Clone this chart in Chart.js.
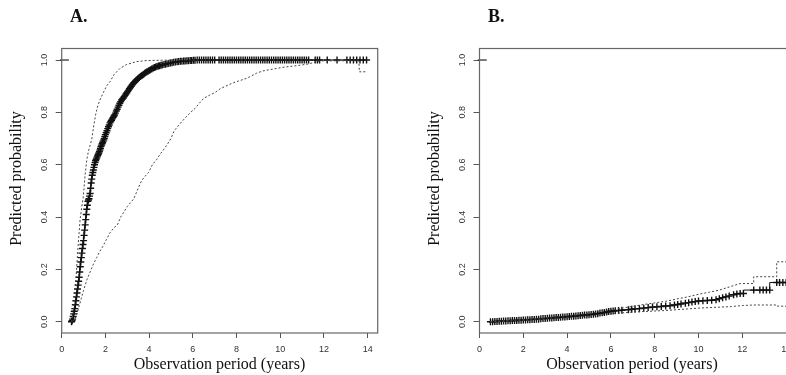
<!DOCTYPE html>
<html><head><meta charset="utf-8">
<script src="https://cdn.jsdelivr.net/npm/chart.js@4/dist/chart.umd.min.js"></script>
<style>
html,body{margin:0;padding:0;background:#fff;overflow:hidden;width:786px;height:375px;}
#wrap{position:relative;width:786px;height:375px;overflow:hidden;background:#fff;}
canvas{position:absolute;top:0;}
#cA{left:0;}
#cB{left:393px;}
</style></head><body>
<div id="wrap">
<canvas id="cA" width="393" height="375" style="width:393px;height:375px"></canvas>
<canvas id="cB" width="420" height="375" style="width:420px;height:375px"></canvas>
</div>
<script>
// ---------- texts and ticks ----------
const panelLabels = ["A.", "B."];
const xAxisTitle = "Observation period (years)";
const yAxisTitle = "Predicted probability";
const xTickValues = [0, 2, 4, 6, 8, 10, 12, 14];
const yTickValues = [0.0, 0.2, 0.4, 0.6, 0.8, 1.0];

// ---------- Panel A : [time, probability] ----------
const aMain = [
 [0.450,0.000],[0.475,0.004],[0.500,0.010],[0.525,0.020],[0.550,0.030],[0.575,0.040],[0.600,0.050],[0.625,0.065],
 [0.650,0.080],[0.675,0.095],[0.700,0.110],[0.725,0.125],[0.750,0.140],[0.775,0.155],[0.800,0.170],[0.825,0.190],
 [0.850,0.210],[0.875,0.228],[0.900,0.245],[0.925,0.262],[0.950,0.280],[0.975,0.295],[1.000,0.310],[1.025,0.330],
 [1.050,0.350],[1.075,0.370],[1.100,0.390],[1.125,0.410],[1.150,0.430],[1.175,0.445],[1.200,0.460],[1.225,0.465],
 [1.250,0.470],[1.275,0.480],[1.300,0.490],[1.325,0.510],[1.350,0.530],[1.375,0.545],[1.400,0.560],[1.425,0.570],
 [1.450,0.580],[1.475,0.590],[1.500,0.600],[1.525,0.608],[1.550,0.615],[1.575,0.620],[1.600,0.625],[1.625,0.630],
 [1.650,0.635],[1.675,0.640],[1.700,0.645],[1.725,0.650],[1.750,0.656],[1.775,0.663],[1.800,0.670],[1.825,0.675],
 [1.850,0.680],[1.875,0.685],[1.900,0.690],[1.925,0.695],[1.950,0.700],[1.975,0.708],[2.000,0.715],[2.035,0.722],
 [2.070,0.730],[2.105,0.738],[2.140,0.745],[2.175,0.752],[2.210,0.760],[2.245,0.765],[2.280,0.770],[2.315,0.775],
 [2.350,0.780],[2.385,0.785],[2.420,0.790],[2.460,0.797],[2.500,0.805],[2.540,0.812],[2.580,0.820],[2.620,0.827],
 [2.660,0.835],[2.700,0.841],[2.740,0.847],[2.780,0.851],[2.820,0.855],[2.860,0.860],[2.900,0.865],[2.940,0.870],
 [2.980,0.875],[3.020,0.880],[3.060,0.885],[3.100,0.890],[3.140,0.895],[3.180,0.900],[3.220,0.905],[3.260,0.909],
 [3.300,0.913],[3.350,0.917],[3.400,0.922],[3.450,0.926],[3.500,0.930],[3.550,0.933],[3.600,0.937],[3.650,0.940],
 [3.700,0.943],[3.750,0.946],[3.800,0.949],[3.850,0.952],[3.900,0.955],[3.950,0.957],[4.000,0.960],[4.060,0.963],
 [4.120,0.966],[4.180,0.969],[4.240,0.971],[4.300,0.973],[4.360,0.975],[4.420,0.977],[4.480,0.978],[4.540,0.980],
 [4.600,0.981],[4.680,0.983],[4.750,0.984],[4.820,0.986],[4.900,0.987],[4.980,0.989],[5.050,0.990],[5.120,0.991],
 [5.200,0.992],[5.280,0.993],[5.350,0.994],[5.430,0.995],[5.500,0.995],[5.580,0.996],[5.650,0.996],[5.730,0.997],
 [5.800,0.997],[5.880,0.998],[5.950,0.998],[6.030,0.999],[6.100,0.999],
 [6.20,1],[6.30,1],[6.40,1],[6.50,1],[6.60,1],[6.70,1],[6.80,1],[6.90,1],[7.00,1],
 [7.20,1],[7.30,1],[7.40,1],[7.50,1],[7.60,1],[7.70,1],[7.80,1],[7.90,1],
 [8.00,1],[8.10,1],[8.20,1],[8.30,1],[8.40,1],[8.50,1],[8.60,1],[8.70,1],[8.80,1],[8.90,1],
 [9.00,1],[9.10,1],[9.20,1],[9.30,1],[9.40,1],[9.50,1],[9.60,1],[9.70,1],[9.80,1],[9.90,1],
 [10.00,1],[10.10,1],[10.20,1],[10.30,1],[10.40,1],[10.50,1],[10.60,1],[10.70,1],[10.80,1],[10.90,1],
 [11.00,1],[11.10,1],[11.20,1],[11.30,1],[11.60,1],[11.70,1],[11.80,1],[12.15,1],[12.60,1],
 [13.05,1],[13.20,1],[13.35,1],[13.50,1],[13.65,1],[13.80,1],[13.95,1]
];
const aUpper = [
 [0.45,0.000],[0.52,0.030],[0.60,0.100],[0.68,0.200],[0.76,0.300],[0.84,0.390],[0.92,0.440],[0.99,0.478],
 [1.07,0.560],[1.15,0.620],[1.22,0.650],[1.30,0.675],[1.37,0.694],[1.45,0.740],[1.55,0.790],[1.65,0.825],
 [1.75,0.847],[1.90,0.875],[2.05,0.900],[2.21,0.917],[2.40,0.945],[2.67,0.968],[2.95,0.982],[3.43,0.994],
 [3.90,0.998],[4.50,0.999],[5.10,1.000],[14.00,1.000]
];
const aLower = [
 [0.50,0.000],[0.60,0.010],[0.70,0.030],[0.80,0.060],[0.90,0.090],[1.00,0.120],[1.15,0.160],[1.30,0.190],
 [1.45,0.220],[1.60,0.245],[1.75,0.270],[1.90,0.290],[2.05,0.315],[2.21,0.340],[2.40,0.360],[2.55,0.370],
 [2.70,0.400],[2.85,0.420],[3.00,0.440],[3.15,0.455],[3.30,0.470],[3.45,0.500],[3.60,0.530],[3.75,0.550],
 [3.97,0.570],[4.15,0.600],[4.35,0.620],[4.50,0.640],[4.65,0.656],[4.85,0.680],[5.00,0.700],[5.15,0.730],
 [5.30,0.745],[5.50,0.765],[5.72,0.785],[5.90,0.800],[6.10,0.815],[6.30,0.835],[6.50,0.854],[6.75,0.865],
 [7.00,0.875],[7.25,0.890],[7.50,0.900],[7.85,0.913],[8.10,0.920],[8.46,0.930],[8.70,0.940],[8.92,0.950],
 [9.20,0.958],[9.50,0.963],[9.84,0.968],[10.20,0.973],[10.60,0.977],[10.90,0.980],[11.30,0.985],[11.70,0.995],
 [12.00,0.997],[13.60,0.997],[13.62,0.955],[13.90,0.955]
];

// ---------- Panel B : [time, probability] ----------
const bMain = [
 [0.5,0.000],[0.6,0.000],[0.7,0.001],[0.8,0.001],[0.9,0.002],[1.0,0.002],[1.1,0.003],[1.2,0.003],[1.3,0.004],
 [1.4,0.004],[1.5,0.005],[1.6,0.005],[1.7,0.005],[1.8,0.006],[1.9,0.006],[2.0,0.007],[2.1,0.007],[2.2,0.008],
 [2.3,0.008],[2.4,0.009],[2.5,0.009],[2.6,0.010],[2.7,0.010],[2.8,0.011],[2.9,0.012],[3.0,0.012],[3.1,0.013],
 [3.2,0.014],[3.3,0.014],[3.4,0.015],[3.5,0.016],[3.6,0.016],[3.7,0.017],[3.8,0.018],[3.9,0.018],[4.0,0.019],
 [4.1,0.020],[4.2,0.021],[4.3,0.021],[4.4,0.022],[4.5,0.023],[4.6,0.024],[4.7,0.025],[4.8,0.026],[4.9,0.026],
 [5.0,0.027],[5.1,0.028],[5.2,0.029],[5.3,0.030],[5.4,0.031],[5.5,0.033],[5.6,0.034],[5.7,0.035],[5.8,0.037],
 [5.9,0.039],[6.0,0.040],[6.1,0.041],[6.2,0.042],[6.35,0.043],[6.50,0.044],[6.80,0.046],[6.95,0.048],
 [7.10,0.049],[7.30,0.050],[7.50,0.052],[7.70,0.054],[7.90,0.056],[8.10,0.057],[8.30,0.058],[8.50,0.060],
 [8.70,0.061],[8.90,0.064],[9.05,0.066],[9.20,0.068],[9.40,0.071],[9.55,0.073],[9.70,0.075],[9.85,0.077],
 [10.00,0.079],[10.20,0.080],[10.40,0.081],[10.60,0.082],[10.80,0.084],[10.95,0.088],[11.10,0.092],[11.25,0.095],
 [11.40,0.098],[11.60,0.103],[11.75,0.106],[11.90,0.108],[12.05,0.108],[12.52,0.121],[12.80,0.121],[12.95,0.121],
 [13.10,0.121],[13.25,0.121],[13.57,0.150],[13.70,0.150],[13.85,0.150],[14.00,0.150]
];
const bUpper = [
 [0.50,0.000],[1.00,0.003],[2.00,0.009],[3.00,0.015],[4.00,0.023],[5.00,0.032],[5.50,0.038],[6.00,0.046],
 [6.50,0.052],[7.00,0.059],[7.50,0.066],[8.00,0.072],[8.50,0.078],[9.00,0.087],[9.50,0.095],[10.00,0.105],
 [10.50,0.113],[10.90,0.120],[11.30,0.130],[11.60,0.138],[11.90,0.146],[12.52,0.146],[12.52,0.172],
 [13.57,0.172],[13.57,0.229],[14.40,0.229]
];
const bLower = [
 [0.50,0.000],[1.00,0.001],[2.00,0.005],[3.00,0.009],[4.00,0.015],[5.00,0.022],[5.50,0.026],[6.00,0.031],
 [6.50,0.034],[7.00,0.037],[7.50,0.039],[8.00,0.041],[8.50,0.043],[9.00,0.046],[9.50,0.049],[10.00,0.052],
 [10.50,0.054],[11.00,0.056],[11.50,0.058],[12.00,0.062],[12.52,0.064],[13.55,0.064],[13.57,0.060],[14.40,0.058]
];

// short segment at 1.0 near the origin (both panels)
const startSeg = [[-0.08, 1.0], [0.33, 1.0]];

function pts(arr) { return arr.map(p => ({x: p[0], y: p[1]})); }

const deco = {
  id: 'rdeco',
  afterDraw(chart, args, o) {
    const {ctx, chartArea: a, scales} = chart;
    const y = scales.y;
    ctx.save();
    ctx.strokeStyle = '#666';
    ctx.lineWidth = 1.2;
    ctx.strokeRect(a.left, a.top, a.right - a.left, a.bottom - a.top);
    ctx.fillStyle = '#333';
    ctx.font = '9px "Liberation Sans", Arial, sans-serif';
    ctx.textAlign = 'center';
    ctx.textBaseline = 'alphabetic';
    yTickValues.forEach(v => {
      const py = y.getPixelForValue(v);
      ctx.save();
      ctx.translate(a.left - 15, py);
      ctx.rotate(-Math.PI / 2);
      ctx.fillText(v.toFixed(1), 0, 0);
      ctx.restore();
    });
    ctx.fillStyle = '#111';
    ctx.font = '16px "Liberation Serif", "Times New Roman", serif';
    ctx.save();
    ctx.translate(a.left - 40.5, o.yTitleY);
    ctx.rotate(-Math.PI / 2);
    ctx.fillText(yAxisTitle, 0, 0);
    ctx.restore();
    ctx.fillText(xAxisTitle, o.xTitleX, 369);
    ctx.font = 'bold 18px "Liberation Serif", "Times New Roman", serif';
    ctx.textAlign = 'left';
    ctx.fillText(o.label, o.labelX, 21.7);
    ctx.restore();
  }
};

function makeChart(id, main, upper, lower, geo) {
  const canvas = document.getElementById(id);
  const dashed = {
    showLine: true, borderColor: '#444', borderWidth: 1, borderDash: [2, 2],
    pointRadius: 0, fill: false
  };
  return new Chart(canvas, {
    type: 'scatter',
    data: {
      datasets: [
        Object.assign({data: pts(upper)}, dashed),
        Object.assign({data: pts(lower)}, dashed),
        {data: pts(startSeg), showLine: true, borderColor: '#222', borderWidth: 1.2, pointRadius: 0, clip: false},
        {data: pts(main), showLine: true, stepped: 'after', borderColor: '#111', borderWidth: 1,
         pointStyle: 'cross', pointRadius: 3.5, pointBorderWidth: 1.4, pointBorderColor: '#111', pointBackgroundColor: '#111'}
      ]
    },
    options: {
      responsive: false,
      animation: false,
      devicePixelRatio: 1,
      events: [],
      layout: {padding: {left: 0, right: geo.padRight, top: geo.top, bottom: 0}},
      plugins: {
        legend: {display: false},
        tooltip: {enabled: false},
        rdeco: {label: geo.label, labelX: geo.labelX, xTitleX: geo.xTitleX, yTitleY: geo.yTitleY}
      },
      scales: {
        x: {
          type: 'linear', position: 'bottom', min: 0, max: geo.xMax,
          afterFit: s => { s.height = 42; },
          afterBuildTicks: s => { s.ticks = xTickValues.map(v => ({value: v})); },
          border: {display: false},
          grid: {drawOnChartArea: false, drawTicks: true, tickLength: 5, color: '#555', lineWidth: 1},
          ticks: {includeBounds: false, autoSkip: false, maxRotation: 0, padding: 6, color: '#333',
                  font: {family: '"Liberation Sans", Arial, sans-serif', size: 9},
                  callback: v => String(v)}
        },
        y: {
          type: 'linear', position: 'left', min: -0.043, max: 1.044,
          afterFit: s => { s.width = geo.left; },
          afterBuildTicks: s => { s.ticks = yTickValues.map(v => ({value: v})); },
          border: {display: false},
          grid: {drawOnChartArea: false, drawTicks: true, tickLength: 6, color: '#555', lineWidth: 1},
          ticks: {display: false, includeBounds: false}
        }
      }
    },
    plugins: [deco]
  });
}

makeChart('cA', aMain, aUpper, aLower,
  {label: panelLabels[0], labelX: 70, left: 61.7, padRight: 15.3, top: 48.5, xMax: 14.46, xTitleX: 219.5, yTitleY: 178.5});
makeChart('cB', bMain, bUpper, bLower,
  {label: panelLabels[1], labelX: 95, left: 86.5, padRight: 17, top: 48.5, xMax: 14.45, xTitleX: 239, yTitleY: 178.5});
</script>
</body></html>
